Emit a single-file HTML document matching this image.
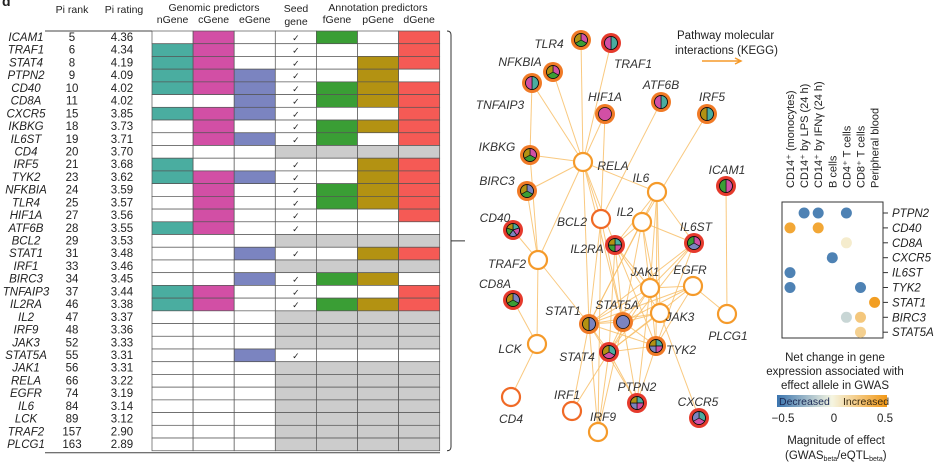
<!DOCTYPE html>
<html><head><meta charset="utf-8"><style>
body{margin:0;background:#fff;}
svg{display:block;font-family:"Liberation Sans",sans-serif;}
</style></head><body>
<svg id="fig" width="943" height="472" viewBox="0 0 943 472"></svg>
<script>
// ---------- table data ----------
const genes=["ICAM1","TRAF1","STAT4","PTPN2","CD40","CD8A","CXCR5","IKBKG","IL6ST","CD4","IRF5","TYK2","NFKBIA","TLR4","HIF1A","ATF6B","BCL2","STAT1","IRF1","BIRC3","TNFAIP3","IL2RA","IL2","IRF9","JAK3","STAT5A","JAK1","RELA","EGFR","IL6","LCK","TRAF2","PLCG1"];
const ranks=[5,6,8,9,10,11,15,18,19,20,21,23,24,25,27,28,29,31,33,34,37,46,47,48,52,55,56,66,74,84,89,157,163];
const ratings=["4.36","4.34","4.19","4.09","4.02","4.02","3.85","3.73","3.71","3.70","3.68","3.62","3.59","3.57","3.56","3.55","3.53","3.48","3.46","3.45","3.44","3.38","3.37","3.36","3.33","3.31","3.31","3.22","3.19","3.14","3.12","2.90","2.89"];
// n c e seed f p d  (seed 0 => gray annotation)
const preds=[
"0101101","1101001","1101011","1111010","1111111","0011111","1111001","0101111","0111101","0000000",
"1001011","1111011","0101111","0101111","0101001","1101000","0000000","0011011","0000000","0011110",
"1101001","1101111","0000000","0000000","0000000","0011000","0000000","0000000","0000000","0000000","0000000","0000000","0000000"];
const colHeads=["nGene","cGene","eGene","","fGene","pGene","dGene"];
const colColors=["#4aada0","#d24fa5","#7b84c0",null,"#3a9e35","#b39212","#f55a55"];
// ---------- network data ----------
const nodes=[
["TLR4",581,40,-32,4],["TRAF1",611,43,22,21],["NFKBIA",553,72,-33,-10],["TNFAIP3",532,83,-32,22],
["HIF1A",605,114,0,-17],["ATF6B",661,102,0,-17],["IRF5",707,114,5,-17],["IKBKG",530,155,-33,-8],
["RELA",583,162,30,4],["BIRC3",527,191,-30,-10],["IL6",657,192,-16,-14],["ICAM1",726,186,1,-16],
["CD40",513,230,-18,-12],["BCL2",601,219,-29,3],["IL2",642,222,-17,-10],["IL6ST",694,243,2,-16],
["IL2RA",615,245,-28,4],["TRAF2",538,260,-31,4],["CD8A",513,300,-18,-16],["JAK1",650,288,-5,-16],
["EGFR",693,286,-3,-16],["STAT1",589,324,-26,-13],["STAT5A",623,322,-6,-17],["JAK3",660,313,20,4],
["PLCG1",727,314,1,22],["LCK",537,344,-27,5],["STAT4",609,352,-32,5],["TYK2",656,346,25,4],
["CD4",511,397,0,22],["IRF1",572,411,-5,-16],["PTPN2",637,403,0,-16],["CXCR5",699,418,-1,-16],["IRF9",598,432,5,-15]];
const redRing=["TRAF1","ICAM1","CD40","CD8A","STAT4","PTPN2","CXCR5","IL6ST","IL2RA"];
const edges=[["RELA","TLR4"],["RELA","TRAF1"],["RELA","NFKBIA"],["RELA","TNFAIP3"],["RELA","HIF1A"],["RELA","IKBKG"],["RELA","BIRC3"],["RELA","IL6"],["RELA","BCL2"],["RELA","TRAF2"],["RELA","STAT5A"],["RELA","IL2RA"],["RELA","STAT1"],
["IKBKG","TNFAIP3"],["IKBKG","TRAF2"],["BIRC3","TRAF2"],["CD40","TRAF2"],["TRAF2","LCK"],["TRAF2","STAT1"],["LCK","CD4"],["CD8A","LCK"],["ATF6B","BCL2"],["HIF1A","BCL2"],["IRF5","IL2"],["ICAM1","PLCG1"],
["IL6","IL6ST"],["IL6","JAK1"],["IL6","STAT1"],["IL6","JAK3"],["IL6","IL2RA"],["IL6","TYK2"],["IL2","IL2RA"],["IL2","JAK1"],["IL2","JAK3"],["IL2","STAT5A"],["IL2","STAT1"],["IL2","IL6ST"],
["IL6ST","JAK1"],["IL6ST","TYK2"],["IL6ST","STAT1"],["IL6ST","STAT4"],["IL2RA","JAK1"],["IL2RA","JAK3"],["IL2RA","STAT5A"],["IL2RA","STAT4"],["IL2RA","TYK2"],
["JAK1","STAT1"],["JAK1","STAT5A"],["JAK1","STAT4"],["JAK1","TYK2"],["JAK1","EGFR"],["JAK3","STAT1"],["JAK3","STAT5A"],["JAK3","STAT4"],["JAK3","CXCR5"],
["EGFR","PLCG1"],["EGFR","STAT1"],["EGFR","STAT5A"],["EGFR","STAT4"],["EGFR","TYK2"],["TYK2","STAT1"],["TYK2","STAT4"],["TYK2","STAT5A"],
["STAT1","IRF1"],["STAT1","IRF9"],["STAT4","IRF9"],["STAT5A","IRF9"],["STAT1","PTPN2"],["STAT4","PTPN2"],["STAT5A","PTPN2"],["TYK2","PTPN2"],["JAK1","PTPN2"],
["BCL2","STAT1"],["BCL2","STAT5A"],["BCL2","IRF9"],["STAT1","STAT5A"],["STAT1","STAT4"],["STAT5A","STAT4"],["IRF1","STAT4"]];
// ---------- heatmap data ----------
const hmCols=["CD14\u207A (monocytes)","CD14\u207A by LPS (24 h)","CD14\u207A by IFN\u03B3 (24 h)","B cells","CD4\u207A T cells","CD8\u207A T cells","Peripheral blood"];
const hmRows=["PTPN2","CD40","CD8A","CXCR5","IL6ST","TYK2","STAT1","BIRC3","STAT5A"];
const hmPoints=[[0,1,-0.45],[0,2,-0.45],[0,4,-0.45],[1,0,0.42],[1,2,0.42],[2,4,0.05],[3,3,-0.45],[4,0,-0.45],[5,0,-0.45],[5,5,-0.45],[6,6,0.47],[7,4,-0.12],[7,5,0.25],[8,5,0.2]];

const NS="http://www.w3.org/2000/svg";
const svg=document.getElementById('fig');
function mk(tag,attrs,parent){const e=document.createElementNS(NS,tag);for(const k in attrs)e.setAttribute(k,attrs[k]);(parent||svg).appendChild(e);return e;}
function txt(s,x,y,attrs,parent){const t=mk('text',Object.assign({x:x,y:y,'font-size':11,fill:'#222'},attrs||{}),parent);t.textContent=s;return t;}

// ---- table ----
const tbl=mk('g',{});


txt('d',2,6,{'font-size':14,'font-weight':'bold'});
txt('Pi rank',72,13,{'text-anchor':'middle','font-size':10.5},tbl);
txt('Pi rating',124,13,{'text-anchor':'middle','font-size':10.5},tbl);
txt('Genomic predictors',214,11,{'text-anchor':'middle','font-size':10.5},tbl);
txt('Annotation predictors',378,11,{'text-anchor':'middle','font-size':10.5},tbl);
txt('Seed',296,12,{'text-anchor':'middle','font-size':10.5},tbl);
txt('gene',296,25,{'text-anchor':'middle','font-size':10.5},tbl);
const gx0=152,cw=41.1,gy0=31,rh=12.72;
colHeads.forEach((h,i)=>{if(h)txt(h,gx0+cw*i+cw/2,23,{'text-anchor':'middle','font-size':10.5},tbl);});
mk('line',{x1:45,y1:31,x2:152,y2:31,stroke:'#444','stroke-width':1},tbl);
genes.forEach((g,r)=>{
  const y=gy0+rh*r;
  const row=mk('g',{},tbl);
  
  
  txt(g,26,y+10,{'text-anchor':'middle','font-style':'italic','font-size':11.5},row);
  txt(String(ranks[r]),72,y+10,{'text-anchor':'middle','font-size':11.5},row);
  txt(ratings[r],122,y+10,{'text-anchor':'middle','font-size':11.5},row);
  const p=preds[r];const seed=p[3]==='1';
  for(let c=0;c<7;c++){
    let fill='#fff';
    if(c>=3&&!seed)fill='#cccccc';
    else if(c!==3&&p[c]==='1')fill=colColors[c];
    mk('rect',{x:gx0+cw*c,y:y,width:cw,height:rh,fill:fill,stroke:'#555','stroke-width':0.7},row);
    if(c===3&&seed)txt('\u2713',gx0+cw*c+cw/2,y+10,{'text-anchor':'middle','font-size':9},row);
  }
});
const gyEnd=gy0+rh*genes.length;
mk('line',{x1:45,y1:gyEnd+2,x2:440,y2:gyEnd+2,stroke:'#444','stroke-width':1},tbl);
mk('path',{d:`M447 ${gy0} q4 0 4 4 V${gyEnd-4} q0 4 -4 4 M451 ${(gy0+gyEnd)/2} H465`,fill:'none',stroke:'#333','stroke-width':1},tbl);

// ---- network ----
const net=mk('g',{});


const pos={};nodes.forEach(n=>pos[n[0]]=n);
edges.forEach(e=>{const a=pos[e[0]],b=pos[e[1]];
  const l=mk('line',{x1:a[1],y1:a[2],x2:b[1],y2:b[2],stroke:'#f8c06a','stroke-width':1,'stroke-opacity':0.85},net);
  
  
});
const predColors=["#4aada0","#d24fa5","#7b84c0","#3a9e35","#b39212"];
nodes.forEach(n=>{
  const [name,x,y,dx,dy]=n;
  const g=mk('g',{},net);
  
  
  const gi=genes.indexOf(name);const p=preds[gi];const seed=p[3]==='1';
  if(seed){
    const ring=redRing.includes(name)?'#e53a2c':'#f07a26';
    mk('circle',{cx:x,cy:y,r:10,fill:ring},g);
    const cols=[];[0,1,2,4,5].forEach((c,k)=>{if(p[c]==='1')cols.push(predColors[k]);});
    const r=6.5;
    if(cols.length<=1){mk('circle',{cx:x,cy:y,r:r,fill:cols[0]||'#fff',stroke:'#111','stroke-width':0.8},g);}
    else{
      cols.forEach((col,k)=>{const a0=-Math.PI/2+2*Math.PI*k/cols.length,a1=-Math.PI/2+2*Math.PI*(k+1)/cols.length;
        const big=(a1-a0)>Math.PI?1:0;
        mk('path',{d:`M${x} ${y} L${x+r*Math.cos(a0)} ${y+r*Math.sin(a0)} A${r} ${r} 0 ${big} 1 ${x+r*Math.cos(a1)} ${y+r*Math.sin(a1)} Z`,fill:col,stroke:'#111','stroke-width':0.7},g);});
      mk('circle',{cx:x,cy:y,r:r,fill:'none',stroke:'#111','stroke-width':0.8},g);
    }
  }else{
    const dark=["CD4","IRF1","BCL2"].includes(name);
    mk('circle',{cx:x,cy:y,r:9,fill:'#fff',stroke:dark?'#f06a26':'#f59a2a','stroke-width':2.2},g);
  }
  txt(name,x+dx,y+dy+4,{'text-anchor':'middle','font-style':'italic','font-size':12,fill:'#333'},g);
});
const kl=mk('g',{});


txt('Pathway molecular',677,39,{'font-size':11.5,fill:'#222'},kl);
txt('interactions (KEGG)',675,54,{'font-size':11.5,fill:'#222'},kl);
mk('path',{d:'M702 61 H740 M735 58 L741 61 L735 64',stroke:'#f59a2a','stroke-width':1.5,fill:'none'},kl);

// ---- heatmap ----
const hm=mk('g',{});


const bx0=782,bx1=883,by0=202,by1=338;
const colX=i=>790+i*14.1, rowY=j=>213+j*14.9;
function cmap(v){
  const stops=[[-0.5,[59,117,175]],[0,[245,245,225]],[0.5,[242,152,22]]];
  const t=Math.max(-0.5,Math.min(0.5,v));
  const [a,b]=t<0?[stops[0],stops[1]]:[stops[1],stops[2]];
  const f=(t-a[0])/(b[0]-a[0]);
  const c=a[1].map((x,i)=>Math.round(x+(b[1][i]-x)*f));
  return `rgb(${c[0]},${c[1]},${c[2]})`;
}
mk('rect',{x:bx0,y:by0,width:bx1-bx0,height:by1-by0,fill:'none',stroke:'#333','stroke-width':1},hm);
hmCols.forEach((c,i)=>{const t=txt(c,0,0,{'font-size':11,transform:`translate(${colX(i)+4},188) rotate(-90)`},hm);});
hmRows.forEach((r,j)=>{mk('line',{x1:bx1,y1:rowY(j),x2:bx1+5,y2:rowY(j),stroke:'#333'},hm);
  txt(r,892,rowY(j)+4,{'font-style':'italic','font-size':11.5},hm);});
hmPoints.forEach(pt=>{const d=mk('circle',{cx:colX(pt[1]),cy:rowY(pt[0]),r:5.5,fill:cmap(pt[2])},hm);
  
  });
// legend
const lg=mk('g',{});


txt('Net change in gene',835,361,{'text-anchor':'middle','font-size':11.5},lg);
txt('expression associated with',835,375,{'text-anchor':'middle','font-size':11.5},lg);
txt('effect allele in GWAS',835,389,{'text-anchor':'middle','font-size':11.5},lg);
const defs=mk('defs',{});
const grad=mk('linearGradient',{id:'cb',x1:0,x2:1,y1:0,y2:0},defs);
[[0,-0.5],[0.5,0],[1,0.5]].forEach(s=>mk('stop',{offset:s[0],'stop-color':cmap(s[1])},grad));
mk('rect',{x:777,y:395,width:110,height:12,fill:'url(#cb)'},lg);
txt('Decreased',779,405,{'font-size':10.5,fill:'#1d2a55'},lg);
txt('Increased',843,405,{'font-size':10.5,fill:'#3a2a10'},lg);
const ticks=["\u22120.5","0","0.5"];
ticks.forEach((t,i)=>txt(t,783+i*51,422,{'text-anchor':'middle','font-size':11.5},lg));
txt('Magnitude of effect',836,444,{'text-anchor':'middle','font-size':11.5},lg);
const m=txt('(GWAS',785,459,{'font-size':11.5},lg);
const s1=mk('tspan',{'font-size':7,dy:2},m);s1.textContent='beta';
const s2=mk('tspan',{dy:-2},m);s2.textContent='/eQTL';
const s3=mk('tspan',{'font-size':7,dy:2},m);s3.textContent='beta';
const s4=mk('tspan',{dy:-2},m);s4.textContent=')';
</script>
</body></html>
